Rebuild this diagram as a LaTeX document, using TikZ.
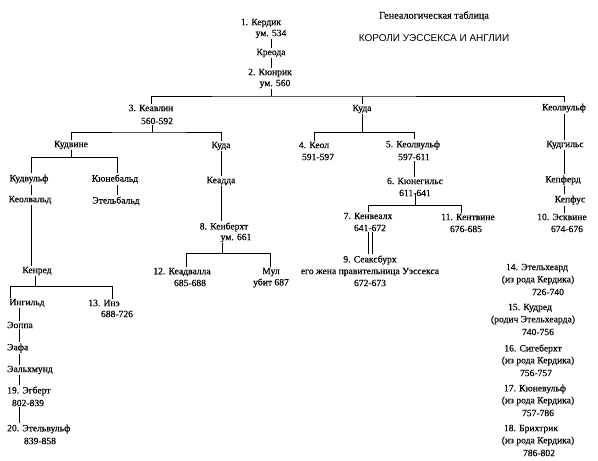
\documentclass[tikz,border=0pt]{standalone}
\usepackage{fontspec}
\setmainfont{Liberation Serif}
\newfontfamily\heavyserif[FakeBold=0.3]{Liberation Serif}
\newfontfamily\titlesans{Liberation Sans}
\begin{document}
\begin{tikzpicture}[x=1pt,y=-1pt,
  lbl/.style={inner sep=1pt,font=\heavyserif\fontsize{9.6}{10}\selectfont},
  link/.style={line width=0.9pt,black}]
\useasboundingbox (0,0) rectangle (598,461);
% titles
\node[inner sep=0pt,font=\heavyserif\fontsize{10.2}{11}\selectfont] (t1) at (434,16) {Генеалогическая таблица};
\node[inner sep=0pt,font=\titlesans\fontsize{10}{11}\selectfont] (t2) at (434,38) {КОРОЛИ УЭССЕКСА И АНГЛИИ};
% top line
\node[lbl] (n1) at (261,23) {1. Кердик};
\node[lbl] (n1d) at (271,34) {ум. 534};
\node[lbl] (kreoda) at (271,53) {Креода};
\node[lbl] (n2) at (270,73) {2. Кюнрик};
\node[lbl] (n2d) at (275,84) {ум. 560};
\node[lbl] (n3) at (151,108) {3. Кеавлин};
\node[lbl] (n3d) at (157,121) {560-592};
\node[lbl] (kuda1) at (362,109) {Куда};
\node[lbl] (keolvulf) at (564,108) {Кеолвульф};
% left branch
\node[lbl] (kudvine) at (71,145) {Кудвине};
\node[lbl] (kuda2) at (221,146) {Куда};
\node[lbl] (kudvulf) at (29,179) {Кудвульф};
\node[lbl] (kuneb) at (115,179) {Кюнебальд};
\node[lbl] (keolvald) at (30,200) {Кеолвальд};
\node[lbl] (etelb) at (116,201) {Этельбальд};
\node[lbl] (keadda) at (221,181) {Кеадда};
\node[lbl] (n8) at (224,227) {8. Кенберхт};
\node[lbl] (n8d) at (236,238) {ум. 661};
\node[lbl] (n12) at (182,272) {12. Кеадвалла};
\node[lbl] (n12d) at (190,283) {685-688};
\node[lbl] (mul) at (271,272) {Мул};
\node[lbl] (muld) at (271,283) {убит 687};
\node[lbl] (kenred) at (37,271) {Кенред};
\node[lbl] (ingild) at (27,303) {Ингильд};
\node[lbl] (n13) at (104,303) {13. Инэ};
\node[lbl] (n13d) at (117,314) {688-726};
\node[lbl,anchor=west] (eoppa) at (6,325) {Эоппа};
\node[lbl,anchor=west] (eafa) at (6,348) {Эафа};
\node[lbl,anchor=west] (ealh) at (6,370) {Эальхмунд};
\node[lbl,anchor=west] (n19) at (6,391) {19. Эгберт};
\node[lbl] (n19d) at (28,403) {802-839};
\node[lbl,anchor=west] (n20) at (6,429) {20. Этельвульф};
\node[lbl] (n20d) at (40,441) {839-858};
% middle branch
\node[lbl] (n4) at (314,145) {4. Кеол};
\node[lbl] (n4d) at (318,157) {591-597};
\node[lbl] (n5) at (413,145) {5. Кеолвульф};
\node[lbl] (n5d) at (414,157) {597-611};
\node[lbl] (n6) at (415,181) {6. Кюнегильс};
\node[lbl] (n6d) at (415,193) {611-641};
\node[lbl] (n7) at (368,216) {7. Кенвеалх};
\node[lbl] (n7d) at (370,228) {641-672};
\node[lbl] (n11) at (468,217) {11. Кентвине};
\node[lbl] (n11d) at (466,229) {676-685};
\node[lbl] (n9) at (370,260) {9. Сеаксбурх};
\node[lbl] (n9a) at (370,272) {его жена правительница Уэссекса};
\node[lbl] (n9d) at (370,283) {672-673};
% right branch
\node[lbl] (kudgils) at (565,145) {Кудгильс};
\node[lbl] (kepferd) at (563,180) {Кепферд};
\node[lbl] (kepfus) at (570,200) {Кепфус};
\node[lbl] (n10) at (562,217) {10. Эсквине};
\node[lbl] (n10d) at (567,229) {674-676};
% list
\node[lbl] (n14) at (537,268) {14. Этельхеард};
\node[lbl] (n14a) at (538,280) {(из рода Кердика)};
\node[lbl] (n14d) at (548,292) {726-740};
\node[lbl] (n15) at (530,308) {15. Кудред};
\node[lbl] (n15a) at (533,320) {(родич Этельхеарда)};
\node[lbl] (n15d) at (538,332) {740-756};
\node[lbl] (n16) at (533,349) {16. Сигеберхт};
\node[lbl] (n16a) at (538,361) {(из рода Кердика)};
\node[lbl] (n16d) at (536,373) {756-757};
\node[lbl] (n17) at (535,389) {17. Кюневульф};
\node[lbl] (n17a) at (538,401) {(из рода Кердика)};
\node[lbl] (n17d) at (538,413) {757-786};
\node[lbl] (n18) at (531,429) {18. Брихтрик};
\node[lbl] (n18a) at (538,441) {(из рода Кердика)};
\node[lbl] (n18d) at (539,453) {786-802};
% coordinates
\coordinate (b1) at (271,96);
\coordinate (b2) at (152,132);
\coordinate (b3l) at (31,157);
\coordinate (b3r) at (117,157);
\coordinate (b4l) at (186,253);
\coordinate (b4r) at (270,253);
\coordinate (b5l) at (10,286);
\coordinate (b5r) at (112,286);
\coordinate (b6l) at (314,132);
\coordinate (b6r) at (414,132);
\coordinate (b7l) at (368,205);
\coordinate (b7r) at (461,205);
\coordinate (cx) at (19,0);
% connectors
\draw[link] (kreoda.north) -- (kreoda.north |- n1d.south);
\draw[link] (kreoda.south) -- (kreoda.south |- n2.north);
\draw[link] (b1 |- n2d.south) -- (b1);
\draw[link] (n3.north) |- (b1) -| (keolvulf.north);
\draw[link] (kuda1.north) -- (kuda1.north |- b1);
\draw[link] (b2 |- n3d.south) -- (b2);
\draw[link] (kudvine.north) |- (b2) -| (kuda2.north);
\draw[link] (kudvine.south) -- (kudvine.south |- b3l);
\draw[link] (kudvulf.north -| b3l) |- (b3r) -- (kuneb.north -| b3r);
\draw[link] (kudvulf.south -| b3l) -- (keolvald.north -| b3l);
\draw[link] (keolvald.south -| b3l) -- (kenred.north -| b3l);
\draw[link] (kuneb.south -| b3r) -- (etelb.north -| b3r);
\draw[link] (kuda2.south) -- (keadda.north);
\draw[link] (keadda.south) -- (keadda.south |- n8.north);
\draw[link] (222,0 |- n8d.south) -- (222,253);
\draw[link] (n12.north -| b4l) |- (b4r) -- (mul.north -| b4r);
\draw[link] (35,0 |- kenred.south) -- (35,286);
\draw[link] (ingild.north -| b5l) |- (b5r) -- (n13.north -| b5r);
\draw[link] (cx |- ingild.south) -- (cx |- eoppa.north);
\draw[link] (cx |- eoppa.south) -- (cx |- eafa.north);
\draw[link] (cx |- eafa.south) -- (cx |- ealh.north);
\draw[link] (cx |- ealh.south) -- (cx |- n19.north);
\draw[link] (cx |- n19d.south) -- (cx |- n20.north);
\draw[link] (kuda1.south) -- (kuda1.south |- b6l);
\draw[link] (n4.north -| b6l) |- (b6r) -- (n5.north -| b6r);
\draw[link] (n5d.south -| b6r) -- (n6.north -| b6r);
\draw[link] (415,0 |- n6d.center) -- (415,205);
\draw[link] (n7.north -| b7l) |- (b7r) -- (n11.north -| b7r);
\draw[link] ([xshift=-2pt]n7d.south) -- ([xshift=-2pt]n7d.south |- n9.north);
\draw[link] ([xshift=2pt]n7d.south) -- ([xshift=2pt]n7d.south |- n9.north);
\draw[link] (keolvulf.south) -- (keolvulf.south |- kudgils.north);
\draw[link] (keolvulf.south |- kudgils.south) -- (keolvulf.south |- kepferd.north);
\draw[link] (keolvulf.south |- kepferd.south) -- (keolvulf.south |- kepfus.north);
\draw[link] (keolvulf.south |- kepfus.south) -- (keolvulf.south |- n10.north);
\end{tikzpicture}
\end{document}
